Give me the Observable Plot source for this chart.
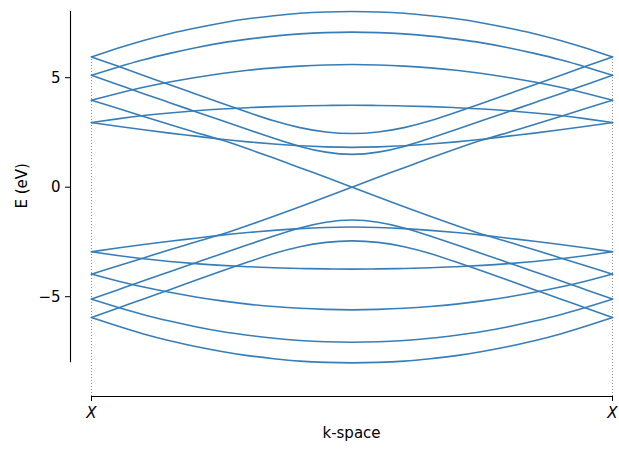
<!DOCTYPE html>
<html>
<head>
<meta charset="utf-8">
<script src="https://cdn.jsdelivr.net/npm/d3@7"></script>
<script src="https://cdn.jsdelivr.net/npm/@observablehq/plot@0.6"></script>
<style>
  body { margin: 0; background: #fff; }
</style>
</head>
<body>
<div id="chart"></div>
<script>
// k-path positions (X ... X), fraction of path
const kValues = [0, 0.05, 0.1, 0.15, 0.2, 0.25, 0.3, 0.35, 0.4, 0.45, 0.5,
                 0.55, 0.6, 0.65, 0.7, 0.75, 0.8, 0.85, 0.9, 0.95, 1];
const kTickValues = [0, 1];
const kTickLabels = ["X", "X"];
const eTicks = [-5, 0, 5];

// Band energies (eV), one array per continuous line
const bandTop1 = [5.95, 6.34, 6.70, 7.01, 7.27, 7.50, 7.69, 7.83, 7.94, 8.00, 8.02, 8.00, 7.94, 7.83, 7.69, 7.50, 7.27, 7.01, 6.70, 6.34, 5.95];
const bandTop2 = [5.11, 5.48, 5.82, 6.11, 6.37, 6.59, 6.76, 6.90, 7.00, 7.06, 7.08, 7.06, 7.00, 6.90, 6.76, 6.59, 6.37, 6.11, 5.82, 5.48, 5.11];
const bandTop3 = [3.97, 4.28, 4.56, 4.80, 5.01, 5.19, 5.34, 5.45, 5.53, 5.58, 5.60, 5.58, 5.53, 5.45, 5.34, 5.19, 5.01, 4.80, 4.56, 4.28, 3.97];
const bandTop4 = [2.95, 3.12, 3.27, 3.39, 3.49, 3.57, 3.63, 3.68, 3.71, 3.73, 3.74, 3.73, 3.71, 3.68, 3.63, 3.57, 3.49, 3.39, 3.27, 3.12, 2.95];
const bandMid1 = [5.95, 5.53, 5.10, 4.68, 4.25, 3.83, 3.42, 3.03, 2.72, 2.52, 2.45, 2.52, 2.72, 3.03, 3.42, 3.83, 4.25, 4.68, 5.10, 5.53, 5.95];
const bandMid2 = [5.11, 4.69, 4.27, 3.86, 3.45, 3.04, 2.63, 2.23, 1.86, 1.60, 1.50, 1.60, 1.86, 2.23, 2.63, 3.04, 3.45, 3.86, 4.27, 4.69, 5.11];
const bandMid3 = [2.95, 2.78, 2.62, 2.47, 2.33, 2.19, 2.07, 1.97, 1.89, 1.84, 1.82, 1.84, 1.89, 1.97, 2.07, 2.19, 2.33, 2.47, 2.62, 2.78, 2.95];
const bandCrossDown = [3.97, 3.60, 3.23, 2.86, 2.50, 2.15, 1.75, 1.33, 0.89, 0.45, 0, -0.45, -0.89, -1.33, -1.75, -2.15, -2.50, -2.86, -3.23, -3.60, -3.97];
const bandCrossUp = [-3.97, -3.60, -3.23, -2.86, -2.50, -2.15, -1.75, -1.33, -0.89, -0.45, 0, 0.45, 0.89, 1.33, 1.75, 2.15, 2.50, 2.86, 3.23, 3.60, 3.97];
const bandLowMid3 = [-2.95, -2.78, -2.62, -2.47, -2.33, -2.19, -2.07, -1.97, -1.89, -1.84, -1.82, -1.84, -1.89, -1.97, -2.07, -2.19, -2.33, -2.47, -2.62, -2.78, -2.95];
const bandLowMid2 = [-5.11, -4.69, -4.27, -3.86, -3.45, -3.04, -2.63, -2.23, -1.86, -1.60, -1.50, -1.60, -1.86, -2.23, -2.63, -3.04, -3.45, -3.86, -4.27, -4.69, -5.11];
const bandLowMid1 = [-5.95, -5.53, -5.10, -4.68, -4.25, -3.83, -3.42, -3.03, -2.72, -2.52, -2.45, -2.52, -2.72, -3.03, -3.42, -3.83, -4.25, -4.68, -5.10, -5.53, -5.95];
const bandLow4 = [-2.95, -3.12, -3.27, -3.39, -3.49, -3.57, -3.63, -3.68, -3.71, -3.73, -3.74, -3.73, -3.71, -3.68, -3.63, -3.57, -3.49, -3.39, -3.27, -3.12, -2.95];
const bandLow3 = [-3.97, -4.28, -4.56, -4.80, -5.01, -5.19, -5.34, -5.45, -5.53, -5.58, -5.60, -5.58, -5.53, -5.45, -5.34, -5.19, -5.01, -4.80, -4.56, -4.28, -3.97];
const bandLow2 = [-5.11, -5.48, -5.82, -6.11, -6.37, -6.59, -6.76, -6.90, -7.00, -7.06, -7.08, -7.06, -7.00, -6.90, -6.76, -6.59, -6.37, -6.11, -5.82, -5.48, -5.11];
const bandLow1 = [-5.95, -6.34, -6.70, -7.01, -7.27, -7.50, -7.69, -7.83, -7.94, -8.00, -8.02, -8.00, -7.94, -7.83, -7.69, -7.50, -7.27, -7.01, -6.70, -6.34, -5.95];

const bands = [bandTop1, bandTop2, bandTop3, bandTop4, bandMid1, bandMid2, bandMid3,
               bandCrossDown, bandCrossUp,
               bandLowMid3, bandLowMid2, bandLowMid1, bandLow4, bandLow3, bandLow2, bandLow1];

const rows = [];
bands.forEach((vals, b) => vals.forEach((e, i) => rows.push({k: kValues[i], E: e, band: b})));

const yDomain = [-9.557, 8.068];
const eExtent = d3.extent(rows, d => d.E);
const xLevelTop = d3.max(bands, v => v[0]);
const lineColor = "#377eb8";

const chart = Plot.plot({
  width: 619,
  height: 450,
  marginLeft: 70,
  marginRight: 7,
  marginTop: 10,
  marginBottom: 54,
  x: {domain: [0, 1], insetLeft: 21},
  y: {domain: yDomain},
  style: {fontFamily: "'DejaVu Sans', sans-serif", fontSize: "15px", color: "black", background: "white"},
  marks: [
    Plot.ruleX(kTickValues, {x: d => d, y1: yDomain[0], y2: xLevelTop, stroke: "#808080", strokeWidth: 0.9, strokeDasharray: "1,2"}),
    Plot.line(rows, {x: "k", y: "E", z: "band", stroke: lineColor, strokeWidth: 1.6, curve: "natural"}),
    Plot.ruleY([yDomain[0]], {x1: kTickValues[0], x2: kTickValues[1], stroke: "black", strokeWidth: 1.1}),
    Plot.ruleX([kTickValues[0]], {dx: -21, y1: eExtent[0], y2: eExtent[1], stroke: "black", strokeWidth: 1.1}),
    Plot.axisY({ticks: eTicks, tickSize: 5, tickPadding: 5, label: null,
                tickFormat: d => d < 0 ? "\u2212" + (-d) : String(d)}),
    Plot.axisX({ticks: kTickValues, tickSize: 5, tickPadding: 6, label: null, fontStyle: "italic",
                tickFormat: (d, i) => kTickLabels[i]}),
    Plot.text(["E (eV)"], {frameAnchor: "left", rotate: -90, dx: -48, dy: 5, fill: "black"}),
    Plot.text(["k-space"], {frameAnchor: "bottom", dx: 10, dy: 41, fill: "black"})
  ]
});
document.getElementById("chart").appendChild(chart);
</script>
</body>
</html>
